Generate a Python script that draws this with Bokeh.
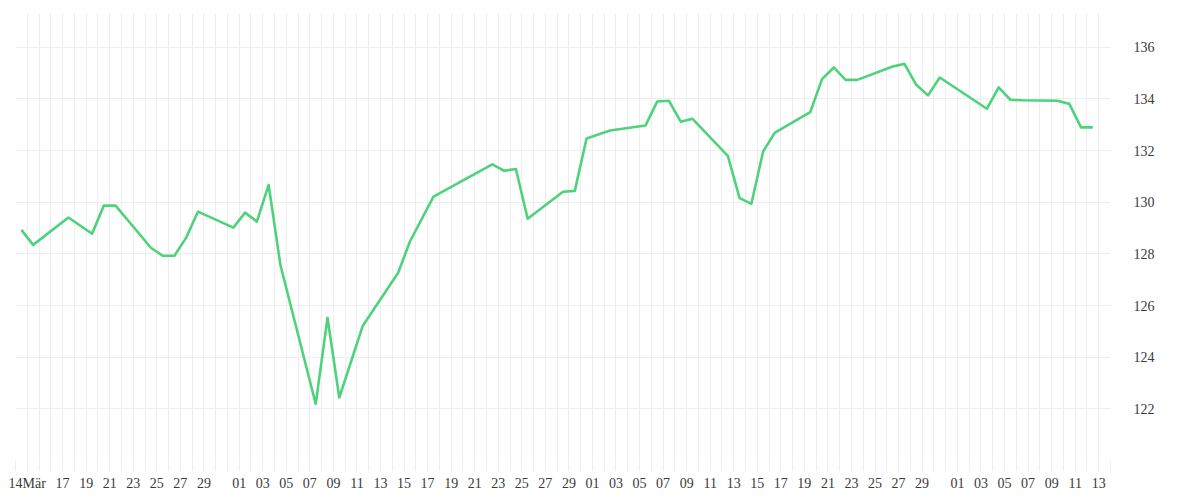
import pandas as pd
from bokeh.plotting import figure
from bokeh.models import FixedTicker, ColumnDataSource, Range1d
from bokeh.embed import file_html
from bokeh.resources import INLINE

# ---- data ----
dates = [
    "2025-03-13", "2025-03-14", "2025-03-17", "2025-03-19", "2025-03-20",
    "2025-03-21", "2025-03-24", "2025-03-25", "2025-03-26", "2025-03-27",
    "2025-03-28", "2025-03-31", "2025-04-01", "2025-04-02", "2025-04-03",
    "2025-04-04", "2025-04-07", "2025-04-08", "2025-04-09", "2025-04-11",
    "2025-04-14", "2025-04-15", "2025-04-17", "2025-04-22", "2025-04-23",
    "2025-04-24", "2025-04-25", "2025-04-28", "2025-04-29", "2025-04-30",
    "2025-05-02", "2025-05-05", "2025-05-06", "2025-05-07", "2025-05-08",
    "2025-05-09", "2025-05-12", "2025-05-13", "2025-05-14", "2025-05-15",
    "2025-05-16", "2025-05-19", "2025-05-20", "2025-05-21", "2025-05-22",
    "2025-05-23", "2025-05-26", "2025-05-27", "2025-05-28", "2025-05-29",
    "2025-05-30", "2025-06-03", "2025-06-04", "2025-06-05", "2025-06-06",
    "2025-06-09", "2025-06-10", "2025-06-11", "2025-06-12",
]
values = [
    128.93, 128.35, 129.41, 128.78, 129.87,
    129.87, 128.24, 127.93, 127.93, 128.63,
    129.64, 129.02, 129.60, 129.25, 130.67,
    127.57, 122.19, 125.53, 122.44, 125.22,
    127.27, 128.48, 130.22, 131.47, 131.22,
    131.29, 129.36, 130.41, 130.44, 132.47,
    132.78, 132.97, 133.90, 133.93, 133.12,
    133.23, 131.80, 130.16, 129.94, 131.97,
    132.70, 133.49, 134.77, 135.22, 134.74,
    134.74, 135.26, 135.36, 134.55, 134.14,
    134.83, 133.62, 134.45, 133.97, 133.95,
    133.93, 133.81, 132.90, 132.90,
]

tick_dates = [
    "2025-03-14", "2025-03-17", "2025-03-19", "2025-03-21", "2025-03-23",
    "2025-03-25", "2025-03-27", "2025-03-29", "2025-04-01", "2025-04-03",
    "2025-04-05", "2025-04-07", "2025-04-09", "2025-04-11", "2025-04-13",
    "2025-04-15", "2025-04-17", "2025-04-19", "2025-04-21", "2025-04-23",
    "2025-04-25", "2025-04-27", "2025-04-29", "2025-05-01", "2025-05-03",
    "2025-05-05", "2025-05-07", "2025-05-09", "2025-05-11", "2025-05-13",
    "2025-05-15", "2025-05-17", "2025-05-19", "2025-05-21", "2025-05-23",
    "2025-05-25", "2025-05-27", "2025-05-29", "2025-06-01", "2025-06-03",
    "2025-06-05", "2025-06-07", "2025-06-09", "2025-06-11", "2025-06-13",
]
tick_labels = [
    "14Mär", "17", "19", "21", "23", "25", "27", "29", "01", "03",
    "05", "07", "09", "11", "13", "15", "17", "19", "21", "23",
    "25", "27", "29", "01", "03", "05", "07", "09", "11", "13",
    "15", "17", "19", "21", "23", "25", "27", "29", "01", "03",
    "05", "07", "09", "11", "13",
]
y_ticks = [122, 124, 126, 128, 130, 132, 134, 136]

axis_start = pd.Timestamp("2025-03-13")
axis_end = pd.Timestamp("2025-06-14")

# ---- convert dates to day positions (points sit in the middle of each day cell) ----
def day_index(d):
    return (pd.Timestamp(d) - axis_start).days

n_days = day_index(axis_end)
xs = [day_index(d) + 0.5 for d in dates]
src = ColumnDataSource(data=dict(x=xs, y=values))

GRID = "#eeeeee"
FONT = "Liberation Serif"
TXT = "#3a3a3a"

p = figure(
    frame_width=1095, frame_height=447,
    x_range=Range1d(0, n_days), y_range=Range1d(120, 137.31),
    y_axis_location="right",
    output_backend="svg", toolbar_location=None,
    min_border_left=15, min_border_top=13, min_border_right=70, min_border_bottom=20,
)
p.outline_line_color = None
p.background_fill_color = "white"

p.line("x", "y", source=src, line_color="#4ed27c", line_width=2.6,
       line_join="round")

# x axis: daily ticks (tick marks in grid colour), labels only on selected days
day_ticks = list(range(0, n_days + 1))
p.xaxis.ticker = FixedTicker(ticks=day_ticks)
overrides = {t: "" for t in day_ticks}
for d, lab in zip(tick_dates, tick_labels):
    overrides[day_index(d)] = lab
p.xaxis.major_label_overrides = overrides
p.xaxis.axis_line_color = None
p.xaxis.major_tick_line_color = GRID
p.xaxis.major_tick_out = 10
p.xaxis.major_tick_in = 0
p.xaxis.minor_tick_line_color = None
p.xaxis.major_label_standoff = 5
p.xaxis.major_label_text_font = FONT
p.xaxis.major_label_text_font_size = "14px"
p.xaxis.major_label_text_color = TXT

p.xgrid.ticker = FixedTicker(ticks=day_ticks)
p.xgrid.grid_line_color = GRID
p.xgrid.grid_line_width = 1

# y axis on the right
p.yaxis.ticker = FixedTicker(ticks=y_ticks)
p.yaxis.axis_line_color = None
p.yaxis.major_tick_line_color = None
p.yaxis.minor_tick_line_color = None
p.yaxis.major_label_standoff = 17
p.yaxis.major_label_text_font = FONT
p.yaxis.major_label_text_font_size = "14px"
p.yaxis.major_label_text_color = TXT

p.ygrid.ticker = FixedTicker(ticks=[120] + y_ticks)
p.ygrid.grid_line_color = GRID
p.ygrid.grid_line_width = 1

open("out.html", "w").write(file_html(p, INLINE))
